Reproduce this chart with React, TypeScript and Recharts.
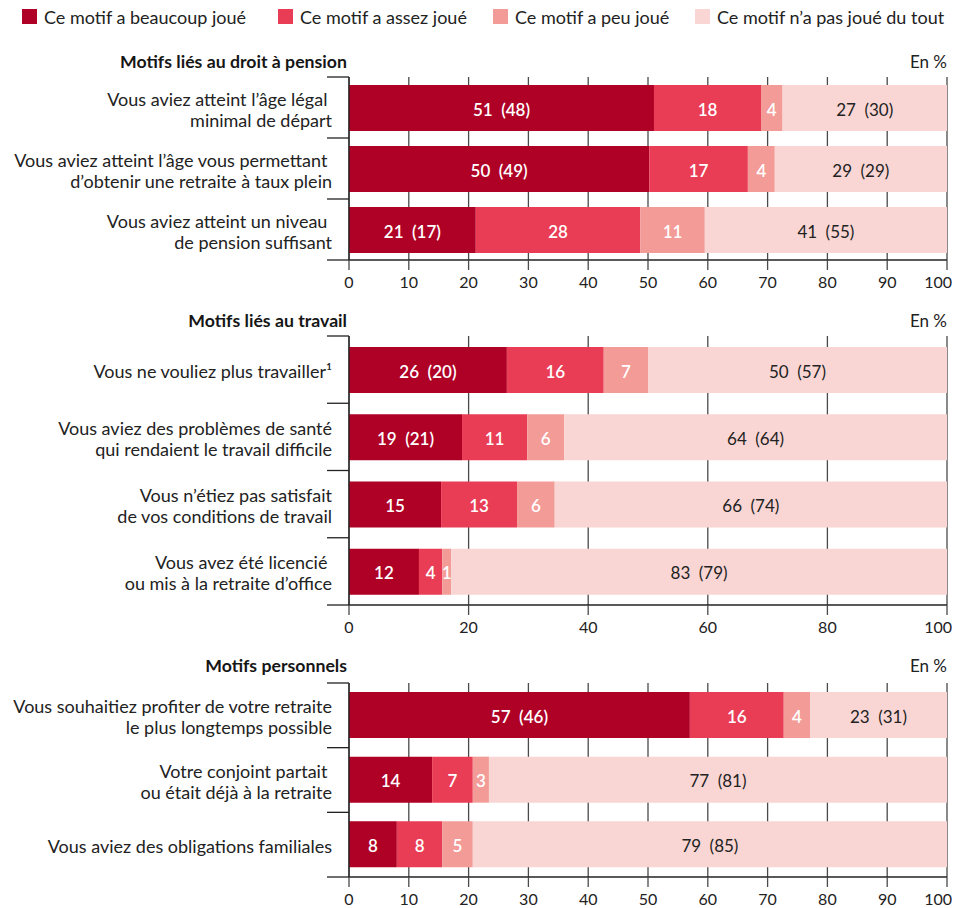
import React from 'react';
import { BarChart, Bar, XAxis, YAxis, CartesianGrid, LabelList } from 'recharts';

const FONT = 'Lato, "Open Sans", sans-serif';

// ---- Series ----
const seriesNames = [
  'Ce motif a beaucoup joué',
  'Ce motif a assez joué',
  'Ce motif a peu joué',
  'Ce motif n’a pas joué du tout',
];
const seriesColors = ['#AF0026', '#E93D56', '#F39B97', '#F9D6D4'];
const labelColors = ['#ffffff', '#ffffff', '#ffffff', '#222222'];

// ---- Panel 1 : Motifs liés au droit à pension ----
const pensionCategories = [
  'Vous aviez atteint l’âge légal\u00a0\nminimal de départ',
  'Vous aviez atteint l’âge vous permettant\u00a0\nd’obtenir une retraite à taux plein',
  'Vous aviez atteint un niveau\u00a0\nde pension suffisant',
];
const pensionBeaucoup = [51.0, 50.2, 21.2];
const pensionAssez = [17.9, 16.5, 27.5];
const pensionPeu = [3.6, 4.5, 10.8];
const pensionPas = [27.5, 28.8, 40.5];
const pensionBeaucoupShown = [51, 50, 21];
const pensionBeaucoupPrev = [48, 49, 17];
const pensionAssezShown = [18, 17, 28];
const pensionPeuShown = [4, 4, 11];
const pensionPasShown = [27, 29, 41];
const pensionPasPrev = [30, 29, 55];
const pensionTicks = [0, 10, 20, 30, 40, 50, 60, 70, 80, 90, 100];

// ---- Panel 2 : Motifs liés au travail ----
const workCategories = [
  'Vous ne vouliez plus travailler¹',
  'Vous aviez des problèmes de santé\nqui rendaient le travail difficile',
  'Vous n’étiez pas satisfait\nde vos conditions de travail',
  'Vous avez été licencié\u00a0\nou mis à la retraite d’office',
];
const workBeaucoup = [26.4, 18.9, 15.4, 11.7];
const workAssez = [16.2, 10.9, 12.7, 3.9];
const workPeu = [7.4, 6.2, 6.3, 1.5];
const workPas = [50.0, 64.0, 65.6, 82.9];
const workBeaucoupShown = [26, 19, 15, 12];
const workBeaucoupPrev = [20, 21, null, null];
const workAssezShown = [16, 11, 13, 4];
const workPeuShown = [7, 6, 6, 1];
const workPasShown = [50, 64, 66, 83];
const workPasPrev = [57, 64, 74, 79];
const workTicks = [0, 20, 40, 60, 80, 100];

// ---- Panel 3 : Motifs personnels ----
const persoCategories = [
  'Vous souhaitiez profiter de votre retraite\nle plus longtemps possible',
  'Votre conjoint partait\u00a0\nou était déjà à la retraite',
  'Vous aviez des obligations familiales',
];
const persoBeaucoup = [57.0, 13.9, 8.0];
const persoAssez = [15.7, 6.8, 7.6];
const persoPeu = [4.4, 2.7, 5.1];
const persoPas = [22.9, 76.6, 79.3];
const persoBeaucoupShown = [57, 14, 8];
const persoBeaucoupPrev = [46, null, null];
const persoAssezShown = [16, 7, 8];
const persoPeuShown = [4, 3, 5];
const persoPasShown = [23, 77, 79];
const persoPasPrev = [31, 81, 85];
const persoTicks = [0, 10, 20, 30, 40, 50, 60, 70, 80, 90, 100];

const fmt = (v: number, p: number | null) => (p != null ? `${v}\u2002(${p})` : `${v}`);

function buildRows(
  cats: string[],
  s0: number[], s1: number[], s2: number[], s3: number[],
  l0: number[], p0: (number | null)[], l1: number[], l2: number[], l3: number[], p3: (number | null)[]
) {
  return cats.map((c, i) => ({
    category: c,
    s0: s0[i], s1: s1[i], s2: s2[i], s3: s3[i],
    t0: fmt(l0[i], p0[i]),
    t1: fmt(l1[i], null),
    t2: fmt(l2[i], null),
    t3: fmt(l3[i], p3[i]),
  }));
}

const pensionRows = buildRows(pensionCategories, pensionBeaucoup, pensionAssez, pensionPeu, pensionPas,
  pensionBeaucoupShown, pensionBeaucoupPrev, pensionAssezShown, pensionPeuShown, pensionPasShown, pensionPasPrev);
const workRows = buildRows(workCategories, workBeaucoup, workAssez, workPeu, workPas,
  workBeaucoupShown, workBeaucoupPrev, workAssezShown, workPeuShown, workPasShown, workPasPrev);
const persoRows = buildRows(persoCategories, persoBeaucoup, persoAssez, persoPeu, persoPas,
  persoBeaucoupShown, persoBeaucoupPrev, persoAssezShown, persoPeuShown, persoPasShown, persoPasPrev);

const valueKeys = ['s0', 's1', 's2', 's3'];
const textKeys = ['t0', 't1', 't2', 't3'];

const GRID = '#4a4a4a';
const AXIS = '#222222';

function CategoryTick(props: any) {
  const { x, y, payload, index, band, last } = props;
  const lines = String(payload.value).split('\n');
  const lh = 21;
  const y0 = y + 1.5 - ((lines.length - 1) * lh) / 2;
  return (
    <g>
      <line x1={x - 22} x2={x} y1={y - band / 2} y2={y - band / 2} stroke={AXIS} strokeWidth={1.3} />
      {index === last && (
        <line x1={x - 22} x2={x} y1={y + band / 2} y2={y + band / 2} stroke={AXIS} strokeWidth={1.3} />
      )}
      <text x={x - 17} y={y0} textAnchor="end" fontFamily={FONT} fontSize={18} fill="#222" style={{ whiteSpace: 'pre' }}>
        {lines.map((l, i) => (
          <tspan key={i} x={x - 17} y={y0 + i * lh} dominantBaseline="central">{l}</tspan>
        ))}
      </text>
    </g>
  );
}

function XTick(props: any) {
  const { x, y, payload, lastValue } = props;
  const isLast = payload.value === lastValue;
  return (
    <text
      x={isLast ? x + 5 : x}
      y={y}
      dy="0.71em"
      textAnchor={isLast ? 'end' : 'middle'}
      fontFamily={FONT}
      fontSize={16}
      fill="#222"
    >
      {payload.value}
    </text>
  );
}

function BarLabel(props: any) {
  const { x, y, width, height, value, color } = props;
  return (
    <text
      x={x + width / 2}
      y={y + height / 2 + 1}
      textAnchor="middle"
      dominantBaseline="central"
      fontFamily={FONT}
      fontSize={17}
      fontWeight={color === '#ffffff' ? 600 : 400}
      fill={color}
      style={{ whiteSpace: 'pre' }}
    >
      {value}
    </text>
  );
}

type PanelProps = {
  top: number; height: number; plotTop: number; plotBottom: number;
  rows: any[]; ticks: number[]; title: string; titleY: number;
};

function Panel({ top, height, plotTop, plotBottom, rows, ticks, title, titleY }: PanelProps) {
  const n = rows.length;
  const band = (plotBottom - plotTop) / n;
  const lastValue = ticks[ticks.length - 1];
  return (
    <div style={{ position: 'absolute', left: 0, top, width: 960, height }}>
      <BarChart
        width={960}
        height={height}
        data={rows}
        layout="vertical"
        margin={{ top: plotTop - top, right: 13, bottom: 0, left: 0 }}
        barSize={46}
      >
        <CartesianGrid horizontal={false} stroke={GRID} strokeWidth={1.3} />
        <XAxis
          type="number"
          domain={[0, 100]}
          ticks={ticks}
          interval={0}
          allowDataOverflow
          height={top + height - plotBottom}
          tickSize={10}
          tickMargin={7}
          axisLine={{ stroke: AXIS, strokeWidth: 1.3 }}
          tickLine={{ stroke: GRID, strokeWidth: 1.3 }}
          tick={(p: any) => <XTick {...p} lastValue={lastValue} />}
        />
        <YAxis
          type="category"
          dataKey="category"
          width={349}
          interval={0}
          tickLine={false}
          tickSize={0}
          tickMargin={0}
          axisLine={{ stroke: AXIS, strokeWidth: 1.3 }}
          tick={(p: any) => <CategoryTick {...p} band={band} last={n - 1} />}
        />
        {valueKeys.map((k, i) => (
          <Bar key={k} dataKey={k} name={seriesNames[i]} stackId="a" fill={seriesColors[i]} isAnimationActive={false}>
            <LabelList dataKey={textKeys[i]} content={(lp: any) => <BarLabel {...lp} color={labelColors[i]} />} />
          </Bar>
        ))}
      </BarChart>
      <div style={{ position: 'absolute', right: 960 - 347, top: titleY - top - 11, lineHeight: '22px', fontFamily: FONT, fontWeight: 700, fontSize: 17.7, color: '#161616', whiteSpace: 'nowrap' }}>
        {title}
      </div>
      <div style={{ position: 'absolute', right: 13, top: titleY - top - 11, lineHeight: '22px', fontFamily: FONT, fontSize: 17, color: '#222', whiteSpace: 'nowrap' }}>
        En %
      </div>
    </div>
  );
}

const legendLeft = [22, 278, 493, 695];

function Legend() {
  return (
    <div style={{ position: 'absolute', left: 0, top: 0, width: 960, height: 34, fontFamily: FONT, fontSize: 18, color: '#222', whiteSpace: 'nowrap' }}>
      {seriesNames.map((s, i) => (
        <div key={s} style={{ position: 'absolute', left: legendLeft[i], top: 4, display: 'flex', alignItems: 'center', height: 25 }}>
          <span style={{ display: 'inline-block', width: 15, height: 15, background: seriesColors[i], marginRight: 7 }} />
          <span>{s}</span>
        </div>
      ))}
    </div>
  );
}

export default function App() {
  return (
    <div style={{ position: 'absolute', left: 0, top: 0, width: 960, height: 908, background: '#fff', overflow: 'hidden' }}>
      <Legend />
      <Panel top={40} height={260} plotTop={77} plotBottom={260} rows={pensionRows} ticks={pensionTicks}
        title="Motifs liés au droit à pension" titleY={62} />
      <Panel top={300} height={340} plotTop={336} plotBottom={605} rows={workRows} ticks={workTicks}
        title="Motifs liés au travail" titleY={321} />
      <Panel top={650} height={258} plotTop={683} plotBottom={877} rows={persoRows} ticks={persoTicks}
        title="Motifs personnels" titleY={666} />
    </div>
  );
}
